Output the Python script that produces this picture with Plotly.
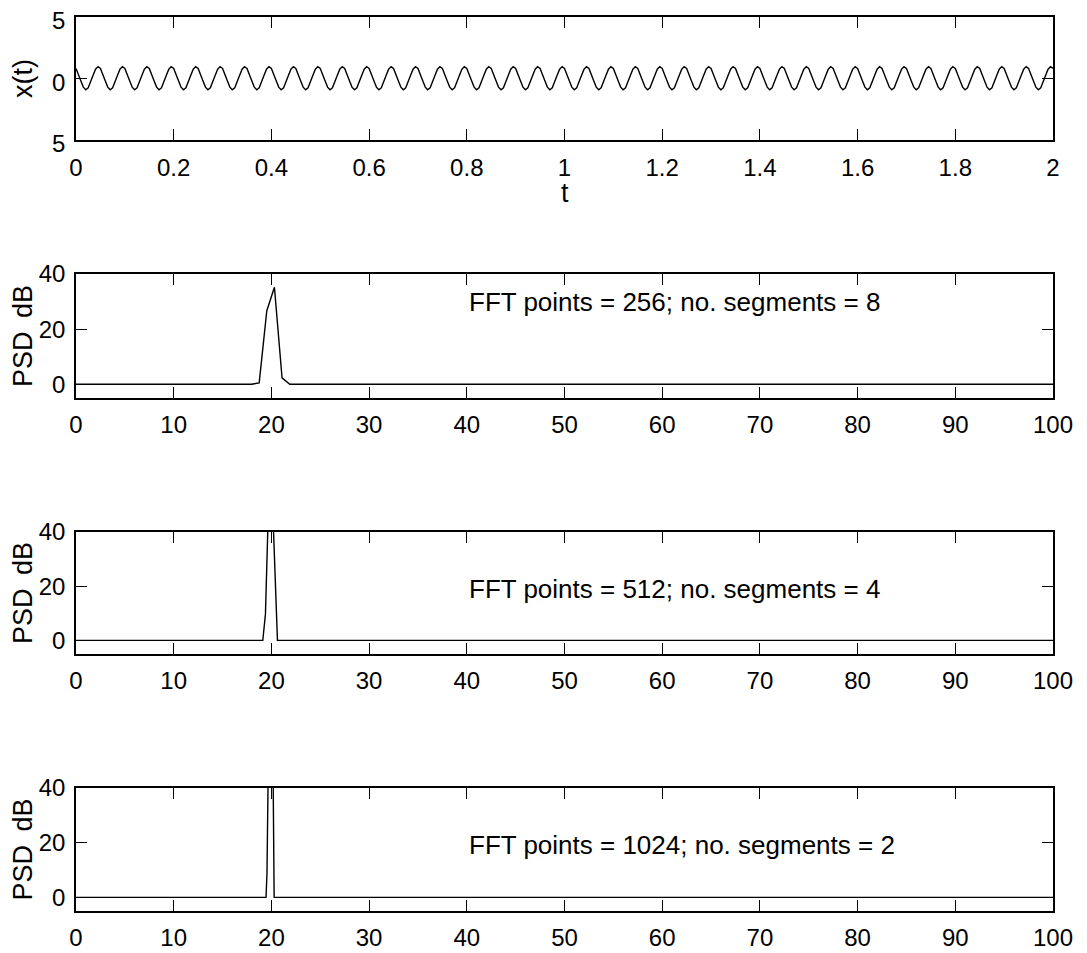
import numpy as np
import plotly.graph_objects as go

# ---------------- data ----------------
# Top panel: a 20 Hz tone sampled at 200 Hz for 2 s (40 identical periods).
SAMPLE_RATE_HZ = 200
N_PERIODS = 40
one_period_x = [0.82, 0.37, -0.21, -0.70, -0.91, -0.76, -0.31, 0.27, 0.76, 0.97]

# PSD panels: frequency (Hz) and level (dB) at the points where the trace bends
psd256_f = [0, 17.97, 18.75, 19.53, 20.31, 21.09, 21.88, 100]
psd256_db = [0, 0, 0.5, 26.7, 35.2, 2.3, 0, 0]

psd512_f = [0, 19.12, 19.39, 19.72, 20.10, 20.62, 100]
psd512_db = [0, 0, 9.7, 52, 52, 0, 0]

psd1024_f = [0, 19.45, 19.55, 19.70, 20.15, 20.28, 100]
psd1024_db = [0, 0, 9, 55, 55, 0, 0]

labels = ["FFT points = 256; no. segments = 8",
          "FFT points = 512; no. segments = 4",
          "FFT points = 1024; no. segments = 2"]
label_y = [30, 19, 19]

top_yticks = [-5, 0, 5]
top_yticktext = ["5", "0", "5"]
psd_yticks = [0, 20, 40]

# ---------------- build ----------------
x_signal = np.tile(one_period_x, N_PERIODS).tolist() + [one_period_x[0]]
t_signal = (np.arange(len(x_signal)) / SAMPLE_RATE_HZ).tolist()

FONT = "Liberation Sans, Arial, Helvetica, sans-serif"
FS = 24        # tick labels
FS_TITLE = 27  # axis titles
FS_NOTE = 26   # annotations
LINE = dict(color="black", width=1.4)

fig = go.Figure()
fig.add_trace(go.Scatter(x=t_signal, y=x_signal, mode="lines", line=LINE,
                         xaxis="x", yaxis="y", showlegend=False))
series = [(psd256_f, psd256_db), (psd512_f, psd512_db), (psd1024_f, psd1024_db)]
for i, (f, d) in enumerate(series, start=2):
    fig.add_trace(go.Scatter(x=f, y=d, mode="lines", line=LINE,
                             xaxis=f"x{i}", yaxis=f"y{i}", showlegend=False))

domains = [(0.8624, 1.0), (0.5738, 0.7125), (0.2875, 0.4239), (0.0, 0.1376)]

axis_common = dict(showgrid=False, zeroline=False, showline=True, linecolor="black",
                   linewidth=1.6, mirror="ticks", ticks="inside", ticklen=11,
                   tickwidth=1.4, tickcolor="black", ticklabeloverflow="allow",
                   tickfont=dict(family=FONT, size=FS, color="black"))

# page body has an 8 px margin, so the figure is offset by 8 px in the window
layout = dict(
    width=1071, height=945,
    margin=dict(l=68, r=26, t=9, b=42, autoexpand=False),
    paper_bgcolor="white", plot_bgcolor="white",
    font=dict(family=FONT, size=FS, color="black"),
    showlegend=False,
)

# top panel
layout["xaxis"] = dict(axis_common, domain=[0, 1], anchor="y", range=[0, 2],
                       tickmode="linear", tick0=0, dtick=0.2,
                       ticklabelstandoff=5)
layout["yaxis"] = dict(axis_common, domain=list(domains[0]), anchor="x", range=[-5, 5],
                       tickmode="array", tickvals=top_yticks, ticktext=top_yticktext,
                       ticklabelstandoff=4, ticklabelshift=4,
                       title=dict(text="x(t)", standoff=18,
                                  font=dict(family=FONT, size=FS_TITLE)))

for i in range(2, 5):
    layout[f"xaxis{i}"] = dict(axis_common, domain=[0, 1], anchor=f"y{i}", range=[0, 100],
                               tickmode="linear", tick0=0, dtick=10,
                               ticklabelstandoff=4)
    layout[f"yaxis{i}"] = dict(axis_common, domain=list(domains[i - 1]), anchor=f"x{i}",
                               range=[-5, 40], tickmode="array", tickvals=psd_yticks,
                               ticklabelstandoff=4,
                               title=dict(text="PSD\u2002dB", standoff=6,
                                          font=dict(family=FONT, size=FS_TITLE)))

fig.update_layout(**layout)

# x-axis title of the top panel
fig.add_annotation(x=0.5, y=0.8031, xref="paper", yref="paper", text="t",
                   showarrow=False, xanchor="center", yanchor="middle",
                   font=dict(family=FONT, size=FS_TITLE, color="black"))

for i, (txt, yv) in enumerate(zip(labels, label_y), start=2):
    fig.add_annotation(x=40, y=yv, xref=f"x{i}", yref=f"y{i}", text=txt,
                       showarrow=False, xanchor="left", yanchor="middle",
                       font=dict(family=FONT, size=FS_NOTE, color="black"))

fig.write_html("out.html")
